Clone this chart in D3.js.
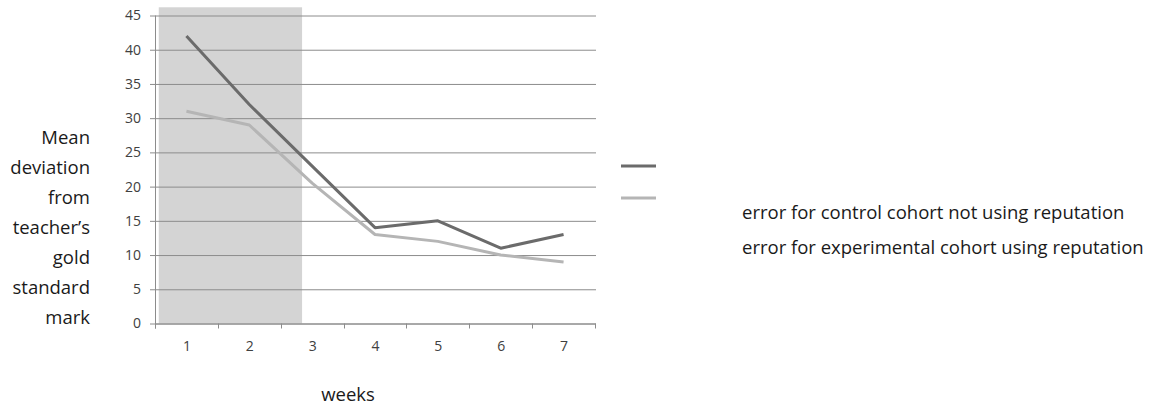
<!DOCTYPE html>
<html>
<head>
<meta charset="utf-8">
<script src="https://cdn.jsdelivr.net/npm/d3@7"></script>
<style>
  html, body { margin: 0; padding: 0; background: #ffffff; }
  svg { display: block; }
</style>
</head>
<body>
<svg id="chart" width="1157" height="407"></svg>
<script>
// ---- data ----
const weeks = [1, 2, 3, 4, 5, 6, 7];
const controlError = [42, 32, 23, 14, 15, 11, 13];
const experimentalError = [31, 29, 20.5, 13, 12, 10, 9];
const yTicks = [0, 5, 10, 15, 20, 25, 30, 35, 40, 45];
const shadedWeeks = [0.56, 2.84];
const seriesNames = ["error for control cohort not using reputation",
                     "error for experimental cohort using reputation"];
const yTitleLines = ["Mean", "deviation", "from", "teacher\u2019s", "gold", "standard", "mark"];
const xTitle = "weeks";

// ---- layout ----
const svg = d3.select("#chart");
const x = d3.scaleLinear().domain([0.5, 7.5]).range([155, 595]);
const y = d3.scaleLinear().domain([0, 45]).range([323.5, 15.5]);
const font = "'Open Sans', 'DejaVu Sans', sans-serif";
const darkCol = "#6b6b6b", lightCol = "#b5b5b5", gridCol = "#8c8c8c";

// shaded region
svg.append("rect")
  .attr("x", x(shadedWeeks[0])).attr("y", y(46.2))
  .attr("width", x(shadedWeeks[1]) - x(shadedWeeks[0]))
  .attr("height", y(0) - y(46.2))
  .attr("fill", "#d4d4d4");

// gridlines + y ticks via axis
const yAxis = d3.axisLeft(y).tickValues(yTicks).tickSize(-(596 - 155)).tickPadding(14);
const gy = svg.append("g").attr("transform", "translate(155,0)").call(yAxis);
gy.select(".domain").remove();
gy.selectAll(".tick line").attr("stroke", gridCol).attr("stroke-width", 1).attr("x1", -5);
gy.selectAll(".tick text").attr("font-family", font).attr("font-size", 14)
  .attr("fill", "#404040");

// y axis line
svg.append("line").attr("x1", 155.5).attr("x2", 155.5).attr("y1", y(45)).attr("y2", y(0) + 5)
  .attr("stroke", gridCol).attr("stroke-width", 1);

// x axis
const xAxis = d3.axisBottom(x).tickValues(weeks).tickFormat(d3.format("d")).tickSize(0).tickPadding(18);
const gx = svg.append("g").attr("transform", `translate(0,${y(0)})`).call(xAxis);
gx.select(".domain").attr("stroke", gridCol);
gx.selectAll(".tick text").attr("font-family", font).attr("font-size", 14).attr("fill", "#404040");
// category boundary ticks
const bounds = d3.range(0.5, 8, 1);
svg.append("g").selectAll("line").data(bounds).join("line")
  .attr("x1", d => Math.round(x(d)) + 0.5).attr("x2", d => Math.round(x(d)) + 0.5)
  .attr("y1", y(0)).attr("y2", y(0) + 5)
  .attr("stroke", gridCol).attr("stroke-width", 1);

// lines
const line = d3.line().x((d, i) => x(weeks[i])).y(d => y(d));
svg.append("path").datum(experimentalError).attr("d", line)
  .attr("fill", "none").attr("stroke", lightCol).attr("stroke-width", 3).attr("stroke-linejoin", "round");
svg.append("path").datum(controlError).attr("d", line)
  .attr("fill", "none").attr("stroke", darkCol).attr("stroke-width", 3).attr("stroke-linejoin", "round");

// y title
svg.append("g").selectAll("text").data(yTitleLines).join("text")
  .attr("x", 90).attr("y", (d, i) => 138 + i * 30)
  .attr("dy", "0.35em")
  .attr("text-anchor", "end").attr("font-family", font).attr("font-size", 18.5)
  .attr("fill", "#1a1a1a").text(d => d);

// x title
svg.append("text").attr("x", 348).attr("y", 401)
  .attr("text-anchor", "middle").attr("font-family", font).attr("font-size", 18.5)
  .attr("fill", "#1a1a1a").text(xTitle);

// legend
const legendCols = [darkCol, lightCol];
svg.append("g").selectAll("line").data(legendCols).join("line")
  .attr("x1", 621).attr("x2", 656)
  .attr("y1", (d, i) => 166 + i * 32).attr("y2", (d, i) => 166 + i * 32)
  .attr("stroke", d => d).attr("stroke-width", 3);
svg.append("g").selectAll("text").data(seriesNames).join("text")
  .attr("x", 742).attr("y", (d, i) => 213 + i * 35).attr("dy", "0.35em")
  .attr("font-family", font).attr("font-size", 18.5)
  .attr("fill", "#1a1a1a").text(d => d);
</script>
</body>
</html>
